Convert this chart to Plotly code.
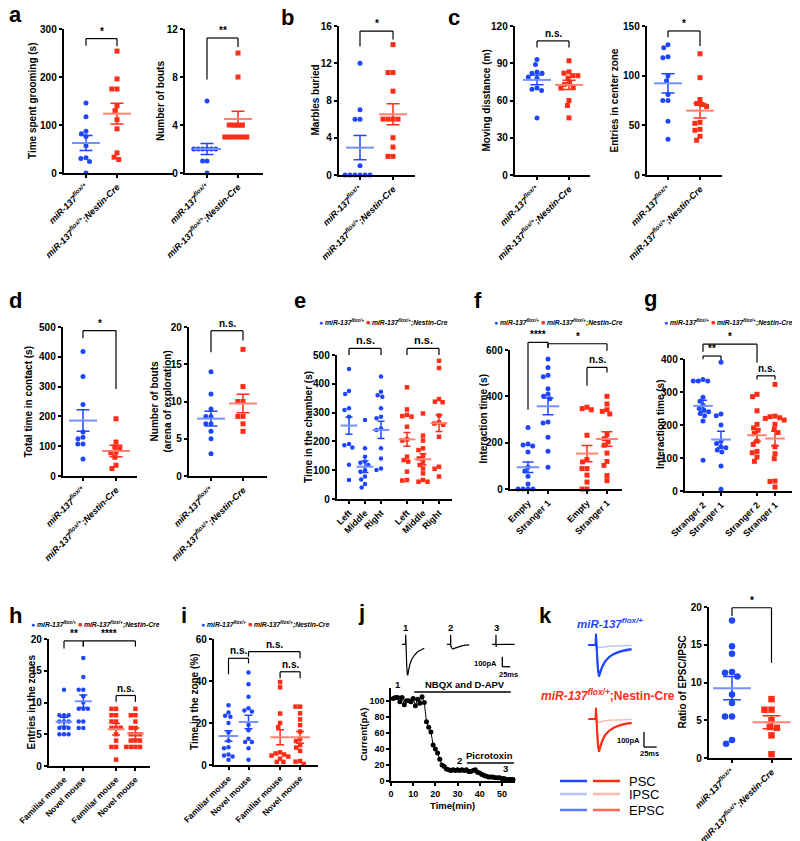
import plotly.graph_objects as go

# ================= data =================
GENO = ["<i>miR-137</i><sup><i>flox/+</i></sup>",
        "<i>miR-137</i><sup><i>flox/+</i></sup><i>;Nestin-Cre</i>"]

# a (left) time spent grooming (s)
a1_ctrl = [146, 117, 87, 82, 76, 57, 32, 30, 24, 0]
a1_cko = [254, 196, 175, 175, 140, 130, 111, 92, 42, 33, 28]
a1_mean = [62.5, 123.6]
a1_sem = [15.5, 21.5]
# a (right) number of bouts
a2_ctrl = [6, 2, 2, 2, 2, 2, 2, 1, 1, 0]
a2_cko = [10, 8, 4, 4, 4, 4, 3, 3, 3, 3, 3, 3]
a2_mean = [2.0, 4.5]
a2_sem = [0.45, 0.64]
# b marbles buried
b_ctrl = [12, 7, 6, 6, 1, 0, 0, 0, 0, 0, 0]
b_cko = [14, 11, 11, 9, 6, 6, 6, 6, 4, 3, 2, 2]
b_mean = [2.94, 6.52]
b_sem = [1.3, 1.13]
# c (left) moving distance (m)
c1_ctrl = [93, 89, 83, 82, 82, 79, 78, 70, 69, 68, 46]
c1_cko = [92, 83, 82, 80, 80, 78, 74, 73, 71, 70, 60, 56, 46]
c1_mean = [76.6, 72.6]
c1_sem = [4.0, 3.7]
# c (right) entries in center zone
c2_ctrl = [131, 128, 119, 118, 100, 95, 81, 75, 75, 54, 36]
c2_cko = [122, 98, 76, 72, 71, 69, 53, 52, 46, 45, 39, 35]
c2_mean = [92.3, 64.8]
c2_sem = [9.7, 7.3]
# d (left) total time in contact (s)
d1_ctrl = [418, 334, 240, 148, 130, 125, 107, 107, 57]
d1_cko = [192, 114, 97, 92, 80, 78, 63, 36, 25]
d1_mean = [186, 84]
d1_sem = [36, 19.5]
# d (right) number of bouts (arena of exploration)
d2_ctrl = [14, 11, 9, 8, 8, 7, 7, 6, 5, 3]
d2_cko = [17, 12, 10, 10, 8, 8, 7, 6]
d2_mean = [7.7, 9.73]
d2_sem = [1.0, 1.25]
# e time in the chamber (s)
e_labels = ["Left", "Middle", "Right", "Left", "Middle", "Right"]
e_ctrl_left = [451, 375, 365, 315, 309, 286, 191, 187, 179, 119, 66]
e_ctrl_middle = [274, 176, 147, 130, 126, 118, 100, 95, 78, 68, 52, 40]
e_ctrl_right = [425, 372, 360, 355, 315, 286, 280, 245, 240, 176, 141, 106, 101]
e_cko_left = [388, 311, 292, 288, 286, 251, 207, 203, 147, 135, 130, 95, 66, 64]
e_cko_middle = [297, 220, 203, 176, 170, 150, 141, 130, 118, 106, 89, 66, 60, 60]
e_cko_right = [480, 455, 347, 338, 336, 290, 266, 262, 258, 216, 112, 105, 78]
e_mean = [255, 112, 240, 207, 138, 263]
e_sem = [30, 20, 30, 24, 19, 29]
# f interaction time (s), sociability
f_labels = ["Empty", "Stranger 1", "Empty", "Stranger 1"]
f_ctrl_empty = [266, 194, 190, 186, 160, 95, 78, 55, 22, 0, 0, 0, 0]
f_ctrl_s1 = [561, 525, 491, 484, 433, 410, 400, 390, 289, 285, 223, 163, 94]
f_cko_empty = [353, 347, 342, 232, 127, 117, 88, 88, 60, 30, 0, 0]
f_cko_s1 = [400, 367, 342, 335, 324, 235, 217, 203, 189, 155, 119, 102, 58, 36]
f_mean = [94, 357, 153, 216]
f_sem = [23, 36, 35, 31]
# g interaction time (s), social novelty
g_labels = ["Stranger 2", "Stranger 1", "Stranger 2", "Stranger 1"]
g_ctrl_s2 = [338, 333, 333, 333, 284, 272, 260, 250, 245, 240, 235, 228, 212, 93]
g_ctrl_s1 = [390, 233, 228, 200, 151, 144, 134, 131, 124, 118, 76, 5]
g_cko_s2 = [293, 286, 243, 202, 191, 184, 174, 151, 141, 120, 116, 103, 90]
g_cko_s1 = [323, 227, 225, 222, 220, 215, 202, 187, 177, 134, 113, 98, 30, 29, 12]
g_mean = [258, 156, 169, 159]
g_sem = [17, 25, 18, 22]
# h entries in the zones
h_labels = ["Familiar mouse", "Novel mouse", "Familiar mouse", "Novel mouse"]
h_ctrl_fam = [12, 8, 8, 8, 7, 7, 7, 6, 6, 6, 5, 5, 5]
h_ctrl_nov = [17, 14, 12, 12, 11, 10, 9, 9, 9, 7, 7, 6, 6]
h_cko_fam = [9, 9, 8, 8, 7, 7, 6, 6, 6, 5, 4, 3, 3, 1]
h_cko_nov = [9, 8, 8, 7, 6, 6, 5, 5, 5, 4, 4, 4, 3, 3, 3, 3]
h_mean = [6.97, 10.2, 5.8, 5.1]
h_sem = [0.7, 1.0, 0.9, 0.9]
# i time in the zone (%)
i_ctrl_fam = [28.5, 25, 23.5, 23, 20, 15.5, 11.5, 8.5, 8, 5, 4.5, 4, 2.5]
i_ctrl_nov = [44, 38.5, 32.5, 27, 26, 25.5, 19, 16.5, 12.5, 11, 11, 8, 2.5]
i_cko_fam = [39.5, 37, 24.5, 20, 18, 6, 5.5, 5, 4.5, 4, 3, 1.5, 1.5]
i_cko_nov = [27.8, 27.8, 24.6, 21.7, 19, 15.9, 12.4, 11.4, 9.5, 8.3, 6.7, 1.9, 1.6, 0.5]
i_mean = [13.8, 20.5, 13.2, 13.2]
i_sem = [2.5, 3.2, 3.6, 2.8]
# j current time course
j_time = [1, 2, 3, 4, 5, 6, 7, 8, 9, 10, 11, 12, 13, 14, 15, 16, 17, 18, 19, 20,
          21, 22, 23, 24, 25, 26, 27, 28, 29, 30, 31, 32, 33, 34, 35, 36, 37, 38, 39, 40,
          41, 42, 43, 44, 45, 46, 47, 48, 49, 50, 51, 52, 53, 54, 55]
j_current = [103, 104, 104, 99, 104, 95, 100, 100, 99, 103, 94, 102, 97, 105, 98, 74, 67, 61, 45, 40,
             35, 27, 20, 18, 15, 14, 13, 14, 13, 14, 13, 14, 13, 14, 12, 12, 13, 14, 11, 10,
             8, 7, 6, 5, 5, 5, 4, 4, 4, 3, 3, 2, 2, 2, 2]
# j example traces (ms, pA)
jtr_t = [-12, -0.5, 0, 0.3, 0.8, 1.5, 3, 5, 6.5, 9, 13, 19, 27, 37, 48, 58]
jtr_1 = [0, 0, 95, -25, 0, -60, -200, -300, -310, -260, -200, -150, -110, -75, -52, -40]
jtr_2 = [0, 0, 95, -25, 0, -20, -35, -45, -47, -43, -38, -30, -22, -14, -8, -5]
jtr_3 = [0, 0, 95, -25, 0, -2, -2, -1, 0, 0, 0, 0, 0, 0, 0, 0]
# k example traces (ms, pA)
ktr_t = [-15, -0.5, 0, 0.4, 1, 2, 4, 6, 8, 12, 18, 26, 36, 48, 60, 70]
ktr_ctrl_psc = [0, 0, 75, -12, 0, -60, -170, -211, -190, -150, -110, -80, -58, -42, -32, -27]
ktr_ctrl_epsc = [0, 0, 75, -12, 0, -55, -155, -195, -180, -145, -108, -80, -60, -45, -36, -31]
ktr_ctrl_ipsc = [0, 0, 75, -12, 0, -10, -16, -18, -17, -14, -11, -8, -6, -5, -4, -3]
ktr_cko_psc = [0, 0, 75, -12, 0, -65, -180, -218, -195, -150, -108, -78, -56, -40, -30, -25]
ktr_cko_epsc = [0, 0, 75, -12, 0, -60, -165, -205, -185, -145, -106, -78, -57, -42, -33, -28]
ktr_cko_ipsc = [0, 0, 75, -12, 0, -12, -20, -22, -20, -16, -12, -9, -7, -5, -4, -3]
# k ratio of EPSC/IPSC
k_ctrl = [18.2, 14.8, 13.8, 11.4, 11.3, 10.8, 8.4, 7.3, 5.5, 5.5, 2.4, 1.9]
k_cko = [7.8, 6.4, 6.4, 5.0, 4.1, 4.0, 3.0, 0.5]
k_mean = [9.25, 4.73]
k_sem = [1.55, 0.86]

# ================= styling / helpers =================
W, H = 800, 841
OX, OY = 8, 8          # page body margin that offsets the plot div
FONT = "Liberation Sans, Arial, Helvetica, sans-serif"
BLUE, RED = "#1f46ff", "#ff2d17"
BLUE_M, RED_M = "#7590ff", "#ff8272"
BLUE_E, RED_E = "#5b7bff", "#ff6a55"
BLUE_I, RED_I = "#b7c5ff", "#ffb9ad"


def PX(x):
    return (x - OX) / W


def PY(y):
    return 1 - (y - OY) / H


fig = go.Figure()
layout = dict(width=W, height=H, margin=dict(l=0, r=0, t=0, b=0, pad=0, autoexpand=False),
              paper_bgcolor="white", plot_bgcolor="white", showlegend=False,
              font=dict(family=FONT, size=10, color="black", weight="bold"))
shapes, annos = [], []
ranges = {}
count = [0]


def axes(left, right, top, bottom, xr, yr, visible=True, xtickvals=None, xticktext=None,
         ytickvals=None, xangle=-45, xfont=9, yfont=10, ticklen=3.5):
    count[0] += 1
    s = "" if count[0] == 1 else str(count[0])
    xa, ya = "x" + s, "y" + s
    base = dict(showgrid=False, zeroline=False, fixedrange=True, automargin=False)
    xd = dict(domain=[PX(left), PX(right)], anchor=ya, range=xr, **base)
    yd = dict(domain=[PY(bottom), PY(top)], anchor=xa, range=yr, **base)
    if visible:
        common = dict(showline=True, linecolor="black", linewidth=1.5, ticks="outside",
                      ticklen=ticklen, tickwidth=1.5, tickcolor="black", tickmode="array")
        xd.update(common, tickvals=xtickvals, ticktext=xticktext, tickangle=xangle,
                  tickfont=dict(size=xfont, family=FONT, weight="bold", color="black"))
        yd.update(common, tickvals=ytickvals,
                  tickfont=dict(size=yfont, family=FONT, weight="bold", color="black"))
    else:
        xd.update(visible=False)
        yd.update(visible=False)
    layout["xaxis" + s] = xd
    layout["yaxis" + s] = yd
    ranges[xa], ranges[ya] = xr, yr
    return xa, ya


def fx(xa, v):
    r = ranges[xa]
    return (v - r[0]) / (r[1] - r[0])


def dline(xa, ya, x0, y0, x1, y1, color="black", width=1.2):
    shapes.append(dict(type="line", xref=xa + " domain", yref=ya + " domain",
                       x0=fx(xa, x0), x1=fx(xa, x1), y0=fx(ya, y0), y1=fx(ya, y1),
                       line=dict(color=color, width=width)))


def dtext(xa, ya, x, y, text, size=10, xanchor="center", yanchor="bottom", color="black",
          weight="bold"):
    annos.append(dict(xref=xa + " domain", yref=ya + " domain", x=fx(xa, x), y=fx(ya, y),
                      text=text, showarrow=False, xanchor=xanchor, yanchor=yanchor,
                      font=dict(size=size, family=FONT, color=color, weight=weight)))


def ptext(px, py, text, size=10, xanchor="center", yanchor="middle", angle=0,
          color="black", weight="bold"):
    annos.append(dict(xref="paper", yref="paper", x=PX(px), y=PY(py), text=text,
                      showarrow=False, xanchor=xanchor, yanchor=yanchor, textangle=angle,
                      font=dict(size=size, family=FONT, color=color, weight=weight)))


def bracket(xa, ya, x0, x1, yt, y0, y1, label, size=10):
    dline(xa, ya, x0, y0, x0, yt)
    dline(xa, ya, x0, yt, x1, yt)
    dline(xa, ya, x1, yt, x1, y1)
    dtext(xa, ya, (x0 + x1) / 2, yt, label, size=size)


def swarm(vals, ppy, d):
    order = sorted(range(len(vals)), key=lambda i: -vals[i])
    placed, offs = [], [0.0] * len(vals)
    for i in order:
        y = vals[i] * ppy
        iv = []
        for (px_, py_) in placed:
            dy = abs(py_ - y)
            if dy < d:
                h = (d * d - dy * dy) ** 0.5
                iv.append((px_ - h, px_ + h))
        cands = [0.0] + [a for a, b in iv] + [b for a, b in iv]
        cands.sort(key=lambda c: (abs(c), c))
        for c in cands:
            if all(not (a + 1e-6 < c < b - 1e-6) for a, b in iv):
                offs[i] = c
                break
        placed.append((offs[i], y))
    return offs


def dot_panel(box, c0, ppx, positions, labels, yr, yticks, groups, ytitle, ytitle_x,
              brackets, msize=5, d=5.2, mw=20, cw=6.5, bsize=10, xfont=9):
    left, right, top, bottom = box
    xr = [(left - c0) / ppx, (right - c0) / ppx]
    xa, ya = axes(left, right, top, bottom, xr, yr, xtickvals=positions, xticktext=labels,
                  ytickvals=yticks, xfont=xfont)
    ppy = (bottom - top) / (yr[1] - yr[0])
    for pos, vals, color, sym, mcol, mean, sem in groups:
        offs = swarm(vals, ppy, d)
        fig.add_trace(go.Scatter(x=[pos + o / ppx for o in offs], y=vals, mode="markers",
                                 marker=dict(symbol=sym, size=msize, color=color,
                                             line=dict(width=0)),
                                 xaxis=xa, yaxis=ya, cliponaxis=False, hoverinfo="skip"))
        fig.add_trace(go.Scatter(x=[pos], y=[mean], mode="markers",
                                 marker=dict(symbol="line-ew", size=mw, color=mcol,
                                             line=dict(color=mcol, width=2)),
                                 error_y=dict(type="data", array=[sem], visible=True,
                                              color=color, thickness=1.5, width=cw),
                                 xaxis=xa, yaxis=ya, cliponaxis=False, hoverinfo="skip"))
    for (x0, x1, yt, y0, y1, lab) in brackets:
        bracket(xa, ya, x0, x1, yt, y0, y1, lab, size=bsize)
    ptext(ytitle_x, (top + bottom) / 2, ytitle, size=10, angle=-90)
    return xa, ya


def two_groups(ctrl, cko, mean, sem):
    return [(0, ctrl, BLUE, "circle", BLUE_M, mean[0], sem[0]),
            (1, cko, RED, "square", RED_M, mean[1], sem[1])]


def four_groups(pos, lists, mean, sem):
    cols = [(BLUE, "circle", BLUE_M), (BLUE, "circle", BLUE_M),
            (RED, "square", RED_M), (RED, "square", RED_M)]
    return [(pos[i], lists[i], cols[i][0], cols[i][1], cols[i][2], mean[i], sem[i])
            for i in range(len(lists))]


LEGEND = ('<span style="color:%s">\u25CF</span> %s <span style="color:%s">\u25A0</span> %s'
          % (BLUE, GENO[0], RED, GENO[1]))

# ================= row 1 =================
dot_panel((64, 173, 29, 173), 86, 31, [0, 1], GENO, [0, 300], [0, 100, 200, 300],
          two_groups(a1_ctrl, a1_cko, a1_mean, a1_sem), "Time spent grooming (s)", 32,
          [(0, 1, 280, 265, 264, "*")])
dot_panel((185, 263, 29, 173), 207, 31, [0, 1], GENO, [0, 12], [0, 4, 8, 12],
          two_groups(a2_ctrl, a2_cko, a2_mean, a2_sem), "Number of bouts", 160,
          [(0, 1, 11.25, 7.8, 10.5, "**")], d=4.4)
dot_panel((339, 415, 26, 175), 360, 33, [0, 1], GENO, [0, 16], [0, 4, 8, 12, 16],
          two_groups(b_ctrl, b_cko, b_mean, b_sem), "Marbles buried", 315,
          [(0, 1, 15.45, 13.8, 14.55, "*")], d=5.0)
dot_panel((515, 590, 26, 175), 537, 32, [0, 1], GENO, [0, 120], [0, 30, 60, 90, 120],
          two_groups(c1_ctrl, c1_cko, c1_mean, c1_sem), "Moving disstance (m)", 486,
          [(0, 1, 108, 102.7, 102.7, "n.s.")])
dot_panel((647, 722, 26, 175), 668, 32, [0, 1], GENO, [0, 150], [0, 50, 100, 150],
          two_groups(c2_ctrl, c2_cko, c2_mean, c2_sem), "Entries in center zone", 614,
          [(0, 1, 145, 138.6, 129.9, "*")])

# ================= row 2 =================
dot_panel((63, 137, 327, 476), 83, 33, [0, 1], GENO, [0, 500], [0, 100, 200, 300, 400, 500],
          two_groups(d1_ctrl, d1_cko, d1_mean, d1_sem), "Total time in contact (s)", 28,
          [(0, 1, 488, 462, 292, "*")])
dot_panel((189, 267, 327, 476), 211, 32, [0, 1], GENO, [0, 20], [0, 5, 10, 15, 20],
          two_groups(d2_ctrl, d2_cko, d2_mean, d2_sem),
          "Number of bouts<br>(arena of exploration)", 160,
          [(0, 1, 19.5, 16.6, 18.2, "n.s.")])

e_pos = [0, 1, 2, 3.625, 4.625, 5.625]
e_lists = [e_ctrl_left, e_ctrl_middle, e_ctrl_right, e_cko_left, e_cko_middle, e_cko_right]
e_groups = []
for i in range(6):
    blue = i < 3
    e_groups.append((e_pos[i], e_lists[i], BLUE if blue else RED,
                     "circle" if blue else "square", BLUE_M if blue else RED_M,
                     e_mean[i], e_sem[i]))
dot_panel((337, 452, 355, 499), 349, 16, e_pos, e_labels, [0, 500],
          [0, 100, 200, 300, 400, 500], e_groups, "Time in the chamber (s)", 309,
          [(0, 2, 523, 500, 500, "n.s."), (3.625, 5.625, 523, 500, 500, "n.s.")],
          msize=4.5, d=4.8, mw=12, cw=3.5, bsize=11)
ptext(317, 323, LEGEND, size=6.8, xanchor="left")

f_pos = [0, 1, 2.95, 3.95]
dot_panel((510, 622, 350, 489), 528, 20, f_pos, f_labels, [0, 600], [0, 200, 400, 600],
          four_groups(f_pos, [f_ctrl_empty, f_ctrl_s1, f_cko_empty, f_cko_s1], f_mean, f_sem),
          "Interaction time (s)", 483,
          [(0, 1, 633, 342, 610, "****"), (1, 3.95, 627, 610, 597, "*"),
           (2.95, 3.95, 525, 446, 503, "n.s.")], d=5.0, mw=16, cw=5.5, bsize=10)
ptext(492, 323, LEGEND, size=6.8, xanchor="left")

g_pos = [0, 1, 3, 4]
dot_panel((685, 797, 359, 491), 703, 18, g_pos, g_labels, [0, 400], [0, 100, 200, 300, 400],
          four_groups(g_pos, [g_ctrl_s2, g_ctrl_s1, g_cko_s2, g_cko_s1], g_mean, g_sem),
          "Interaction time (s)", 660,
          [(0, 3, 445, 422, 389, "*"), (0, 1, 409, 399, 397, "**"),
           (3, 4, 349, 338, 338, "n.s.")], d=5.0, mw=14, cw=4, bsize=10)
ptext(662, 323, LEGEND, size=6.8, xanchor="left")

# ================= row 3 =================
h_pos = [0, 1, 2.7, 3.7]
dot_panel((49, 150, 639, 766), 64, 19.3, h_pos, h_labels, [0, 20], [0, 5, 10, 15, 20],
          four_groups(h_pos, [h_ctrl_fam, h_ctrl_nov, h_cko_fam, h_cko_nov], h_mean, h_sem),
          "Entries in the zones", 31,
          [(0, 1, 19.7, 18.5, 18.8, "**"), (1, 3.7, 19.7, 18.8, 18.8, "****"),
           (2.7, 3.7, 11.1, 10.1, 10.1, "n.s.")], msize=4.5, d=4.6, mw=12, cw=4, bsize=10,
          xfont=8.5)
ptext(29, 624, LEGEND, size=6.8, xanchor="left")

i_pos = [0, 1, 2.58, 3.58]
dot_panel((214, 318, 639, 765), 228.5, 20, i_pos, h_labels, [0, 60], [0, 20, 40, 60],
          four_groups(i_pos, [i_ctrl_fam, i_ctrl_nov, i_cko_fam, i_cko_nov], i_mean, i_sem),
          "Time in the zone (%)", 194,
          [(0, 1, 50.8, 43.2, 48.4, "n.s."), (1, 3.58, 54, 51.6, 50.8, "n.s."),
           (2.58, 3.58, 44.4, 41.3, 41.3, "n.s.")], msize=4.5, d=4.6, mw=14, cw=4, bsize=10,
          xfont=8.5)
ptext(199, 624, LEGEND, size=6.8, xanchor="left")

# ---- j: time course ----
xa, ya = axes(391, 515, 688, 781, [0, 55.9], [0, 116], xtickvals=[0, 10, 20, 30, 40, 50],
              ytickvals=[0, 20, 40, 60, 80, 100], xangle=0, xfont=9, yfont=9, ticklen=3)
fig.add_trace(go.Scatter(x=j_time, y=j_current, mode="lines+markers",
                         line=dict(color="black", width=1),
                         marker=dict(color="black", size=5), xaxis=xa, yaxis=ya,
                         cliponaxis=False, hoverinfo="skip"))
dline(xa, ya, 10.5, 111, 54, 111, width=1.5)
dtext(xa, ya, 33.3, 111, "NBQX and D-APV", size=9.5)
dline(xa, ya, 34.2, 22.5, 55.4, 22.5, width=1.5)
dtext(xa, ya, 44.6, 22.5, "Picrotoxin", size=9.5)
dtext(xa, ya, 3.2, 111, "1", size=9.5)
dtext(xa, ya, 30.8, 16, "2", size=9.5)
dtext(xa, ya, 51.7, 6, "3", size=9.5)
ptext(363, 735, "Current(pA)", size=9.5, angle=-90)
ptext(452, 805, "Time(min)", size=9.5)

# ---- j: example traces ----
for left, cur, lab in [(400.9, jtr_1, "1"), (445.9, jtr_2, "2"), (491.2, jtr_3, "3")]:
    txa, tya = axes(left, left + 27.2, 632.3, 679.3, [-15, 70], [-350, 120], visible=False)
    fig.add_trace(go.Scatter(x=jtr_t, y=cur, mode="lines", line=dict(color="black", width=1.2),
                             xaxis=txa, yaxis=tya, hoverinfo="skip"))
    dtext(txa, tya, 0, 173, lab, size=9.5, yanchor="middle")
dline(txa, tya, 19.7, -124, 19.7, -224, width=1.3)
dline(txa, tya, 19.7, -224, 44.7, -224, width=1.3)
dtext(txa, tya, 9.4, -190, "100pA", size=7.5, xanchor="right", yanchor="middle")
dtext(txa, tya, 37.5, -297, "25ms", size=7.5, yanchor="middle")

# ---- k: example traces ----
kxa, kya = axes(585.8, 659.4, 630, 684, [-20, 125], [-260, 100], visible=False)
for cur, col, wd in [(ktr_ctrl_ipsc, BLUE_I, 1.5), (ktr_ctrl_epsc, BLUE_E, 2),
                     (ktr_ctrl_psc, BLUE, 2)]:
    fig.add_trace(go.Scatter(x=ktr_t, y=cur, mode="lines", line=dict(color=col, width=wd),
                             xaxis=kxa, yaxis=kya, hoverinfo="skip"))
kxb, kyb = axes(585.8, 659.4, 704, 758, [-20, 125], [-260, 100], visible=False)
for cur, col, wd in [(ktr_cko_ipsc, RED_I, 1.5), (ktr_cko_epsc, RED_E, 2),
                     (ktr_cko_psc, RED, 2)]:
    fig.add_trace(go.Scatter(x=ktr_t, y=cur, mode="lines", line=dict(color=col, width=wd),
                             xaxis=kxb, yaxis=kyb, hoverinfo="skip"))
dline(kxb, kyb, 94.6, -87, 94.6, -187, width=1.3)
dline(kxb, kyb, 94.6, -187, 119.6, -187, width=1.3)
dtext(kxb, kyb, 90.6, -140, "100pA", size=7.5, xanchor="right", yanchor="middle")
dtext(kxb, kyb, 106.4, -233, "25ms", size=7.5, yanchor="middle")
ptext(610, 623, "<i>miR-137</i><sup><i>flox/+</i></sup>", size=11.5, color=BLUE)
ptext(608, 695, "<i>miR-137</i><sup><i>flox/+</i></sup>;Nestin-Cre", size=12, color=RED)
# k legend keys
for yk, cb, cr, name in [(781, BLUE, RED, "PSC"), (794, BLUE_I, RED_I, "IPSC"),
                         (810, BLUE_E, RED_E, "EPSC")]:
    shapes.append(dict(type="line", xref="paper", yref="paper", x0=PX(560), x1=PX(587),
                       y0=PY(yk), y1=PY(yk), line=dict(color=cb, width=2.5)))
    shapes.append(dict(type="line", xref="paper", yref="paper", x0=PX(593), x1=PX(620),
                       y0=PY(yk), y1=PY(yk), line=dict(color=cr, width=2.5)))
    ptext(627, yk, name, size=13, xanchor="left", weight="normal")

dot_panel((709, 797, 607, 758), 732, 39.5, [0, 1], GENO, [0, 20], [0, 5, 10, 15, 20],
          two_groups(k_ctrl, k_cko, k_mean, k_sem), "Ratio of EPSC/IPSC", 682,
          [(0, 1, 19.9, 18.8, 12.6, "*")], msize=6.5, d=7, mw=27, cw=9)

# ================= panel letters (kept inside the visible page area) =================
for lab, x, base in [("a", 8, 23), ("b", 280, 25), ("c", 447, 25), ("d", 8, 308),
                     ("e", 293, 308), ("f", 473, 308), ("g", 643, 306), ("h", 8, 623),
                     ("i", 180, 623), ("j", 357, 620), ("k", 538, 623)]:
    ptext(x - 1, base - 8.0, lab, size=22, xanchor="left")

layout["shapes"] = shapes
layout["annotations"] = annos
fig.update_layout(**layout)
fig.write_html("out.html")
